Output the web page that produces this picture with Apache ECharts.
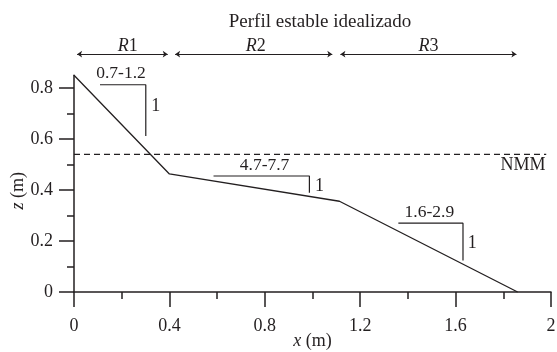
<!DOCTYPE html>
<html>
<head>
<meta charset="utf-8">
<script src="https://cdn.jsdelivr.net/npm/echarts@6/dist/echarts.min.js"></script>
<style>
html,body{margin:0;padding:0;background:#fff;}
#chart{width:557px;height:352px;}
</style>
</head>
<body>
<div id="chart"></div>
<script>
// ---- data ----
const xTicks = [0, 0.4, 0.8, 1.2, 1.6, 2];
const xMinorTicks = [0.2, 0.6, 1.0, 1.4, 1.8];
const yTicks = [0, 0.2, 0.4, 0.6, 0.8];
const yMinorTicks = [0.1, 0.3, 0.5, 0.7];
const profileX = [0, 0.4, 1.113, 1.86];
const profileZ = [0.85, 0.463, 0.356, 0];
const nmmLevel = 0.54;
const nmmRange = [0, 1.98];
const nmmLabel = 'NMM';
const nmmLabelPos = [1.977, 0.498];
const slopeLabels = ['0.7-1.2', '4.7-7.7', '1.6-2.9'];
const slopeRunStart = [0.109, 0.585, 1.36];
const slopeRunEnd = [0.301, 0.987, 1.631];
const slopeTop = [0.813, 0.455, 0.27];
const slopeBottom = [0.612, 0.389, 0.124];
const slopeLabelX = [0.197, 0.799, 1.49];
const slopeLabelZ = [0.859, 0.498, 0.311];
const riseLabel = '1';
const riseLabelX = [0.343, 1.029, 1.67];
const riseLabelZ = [0.727, 0.416, 0.193];
const zoneNames = ['1', '2', '3'];
const zoneStart = [0.013, 0.424, 1.117];
const zoneEnd = [0.393, 1.083, 1.855];
const zoneLevel = 0.933;
const zoneLabelX = [0.225, 0.762, 1.486];
const zoneLabelZ = 0.965;
const titleText = 'Perfil estable idealizado';

// ---- chart ----
const FONT = 'Liberation Serif';
const INK = '#231f20';
const TXT = '#231f20';
const chart = echarts.init(document.getElementById('chart'));

const series = [];
series.push({
  type: 'line', data: profileX.map((x, i) => [x, profileZ[i]]),
  symbol: 'none', clip: false, lineStyle: {color: INK, width: 1.3}, z: 5
});
series.push({
  type: 'line', data: nmmRange.map(x => [x, nmmLevel]),
  symbol: 'none', clip: false, lineStyle: {color: INK, width: 1.2, type: [6, 4]}
});
slopeLabels.forEach((s, i) => {
  series.push({
    type: 'line',
    data: [[slopeRunStart[i], slopeTop[i]], [slopeRunEnd[i], slopeTop[i]], [slopeRunEnd[i], slopeBottom[i]]],
    symbol: 'none', clip: false, lineStyle: {color: INK, width: 1.2}
  });
});
series.push({
  type: 'lines', coordinateSystem: 'cartesian2d', clip: false,
  symbol: ['arrow', 'arrow'], symbolSize: [5, 5],
  lineStyle: {color: INK, width: 1, opacity: 1},
  data: zoneNames.map((n, i) => ({coords: [[zoneStart[i], zoneLevel], [zoneEnd[i], zoneLevel]]}))
});
function textSeries(items, size, align) {
  return {
    type: 'scatter', symbolSize: 0, clip: false, silent: true,
    itemStyle: {color: INK, opacity: 1},
    data: items.map(it => ({value: it.pos, label: {formatter: it.text}})),
    label: {
      show: true, position: [0, 0], color: TXT, fontFamily: FONT, fontSize: size,
      textBorderWidth: 0, opacity: 1,
      align: align || 'center', verticalAlign: 'middle',
      rich: {i: {fontStyle: 'italic', fontFamily: FONT, fontSize: size, color: TXT}}
    }
  };
}
series.push(textSeries(slopeLabels.map((s, i) => ({pos: [slopeLabelX[i], slopeLabelZ[i]], text: s})), 17.5));
series.push(textSeries(riseLabelX.map((x, i) => ({pos: [x, riseLabelZ[i]], text: riseLabel})), 18));
series.push(textSeries(zoneNames.map((n, i) => ({pos: [zoneLabelX[i], zoneLabelZ], text: '{i|R}' + n})), 18));
series.push(textSeries([{pos: nmmLabelPos, text: nmmLabel}], 18, 'right'));

const axisCommon = {
  axisLine: {show: true, lineStyle: {color: INK, width: 1.5}},
  splitLine: {show: false},
  axisLabel: {color: TXT, fontFamily: FONT, fontSize: 18},
  nameMoveOverlap: false,
  nameTextStyle: {color: TXT, fontFamily: FONT, fontSize: 18,
    rich: {i: {fontStyle: 'italic', fontFamily: FONT, fontSize: 18, color: TXT}}}
};

chart.setOption({
  animation: false,
  backgroundColor: '#fff',
  grid: {left: 74, right: 6, top: 75.3, bottom: 60, containLabel: false, outerBoundsMode: 'none'},
  graphic: [{
    type: 'text', x: 320, y: 22,
    style: {text: titleText, fill: TXT, font: '19px "' + FONT + '"', textAlign: 'center', textVerticalAlign: 'middle'}
  }],
  xAxis: [{
    ...axisCommon, type: 'value', min: 0, max: 2, interval: 0.4,
    axisTick: {show: true, length: 15, customValues: xTicks, lineStyle: {color: INK, width: 1.5}},
    axisLabel: {...axisCommon.axisLabel, margin: 25, customValues: xTicks},
    name: '{i|x} (m)', nameLocation: 'middle', nameGap: 40
  }, {
    type: 'value', min: 0, max: 2, position: 'bottom',
    axisLine: {show: false}, splitLine: {show: false}, axisLabel: {show: false},
    axisTick: {show: true, length: 7, customValues: xMinorTicks, lineStyle: {color: INK, width: 1.5}}
  }],
  yAxis: [{
    ...axisCommon, type: 'value', min: 0, max: 0.85,
    axisTick: {show: true, length: 15, customValues: yTicks, lineStyle: {color: INK, width: 1.5}},
    axisLabel: {...axisCommon.axisLabel, margin: 21, customValues: yTicks},
    name: '{i|z} (m)', nameLocation: 'middle', nameGap: 47, nameRotate: 90,
    nameTextStyle: {...axisCommon.nameTextStyle, padding: [0, 14, 0, 0]}
  }, {
    type: 'value', min: 0, max: 0.85, position: 'left',
    axisLine: {show: false}, splitLine: {show: false}, axisLabel: {show: false},
    axisTick: {show: true, length: 7, customValues: yMinorTicks, lineStyle: {color: INK, width: 1.5}}
  }],
  series: series
});
</script>
</body>
</html>
